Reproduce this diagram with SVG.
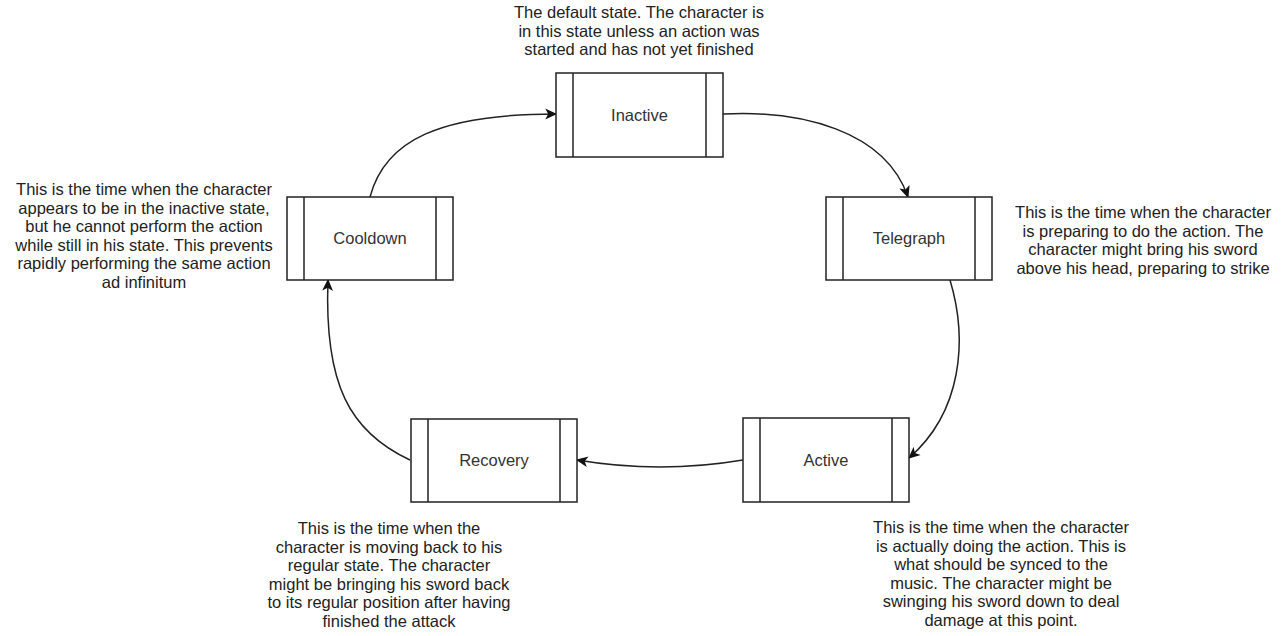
<svg xmlns="http://www.w3.org/2000/svg" width="1283" height="636" viewBox="0 0 1283 636">
<style>
.box{fill:#fff;stroke:#222;stroke-width:1.5}
.bar{stroke:#222;stroke-width:1.5}
.lbl{font-family:"Liberation Sans",Arial,sans-serif;font-size:16.5px;fill:#333;text-anchor:middle}
.desc{font-family:"Liberation Sans",Arial,sans-serif;font-size:16.5px;fill:#222;text-anchor:middle}
.edge{fill:none;stroke:#222;stroke-width:1.5;marker-end:url(#arr)}
</style>
<defs>
<marker id="arr" viewBox="0 0 10 10" refX="9" refY="5" markerWidth="12" markerHeight="12" markerUnits="userSpaceOnUse" orient="auto">
<path d="M0,0.5 L10,5 L0,9.5 L2.5,5 Z" fill="#111"/>
</marker>
</defs>
<rect width="1283" height="636" fill="#fff"/>
<g id="connectors">
<path class="edge" d="M370,197 C385,140 440,114 556,114"/>
<path class="edge" d="M723,114 C800,110 885,130 908,197"/>
<path class="edge" d="M950,280 C968,340 962,412 909,458"/>
<path class="edge" d="M743,460 Q660,474 577,460"/>
<path class="edge" d="M410,460 C350,432 324,385 328,280"/>
</g>
<g id="inactive">
<rect class="box" x="556" y="73" width="167" height="84"/>
<line class="bar" x1="573" y1="73" x2="573" y2="157"/>
<line class="bar" x1="706" y1="73" x2="706" y2="157"/>
<text class="lbl" x="639.5" y="121">Inactive</text>
</g>
<g id="telegraph">
<rect class="box" x="826" y="197" width="166" height="83"/>
<line class="bar" x1="843" y1="197" x2="843" y2="280"/>
<line class="bar" x1="975" y1="197" x2="975" y2="280"/>
<text class="lbl" x="909" y="244">Telegraph</text>
</g>
<g id="active">
<rect class="box" x="743" y="418" width="166" height="84"/>
<line class="bar" x1="760" y1="418" x2="760" y2="502"/>
<line class="bar" x1="892" y1="418" x2="892" y2="502"/>
<text class="lbl" x="826" y="466">Active</text>
</g>
<g id="recovery">
<rect class="box" x="411" y="419" width="166" height="83"/>
<line class="bar" x1="428" y1="419" x2="428" y2="502"/>
<line class="bar" x1="560" y1="419" x2="560" y2="502"/>
<text class="lbl" x="494" y="466">Recovery</text>
</g>
<g id="cooldown">
<rect class="box" x="287" y="197" width="166" height="83"/>
<line class="bar" x1="304" y1="197" x2="304" y2="280"/>
<line class="bar" x1="436" y1="197" x2="436" y2="280"/>
<text class="lbl" x="370" y="244">Cooldown</text>
</g>
<g id="note-inactive">
<text class="desc"><tspan x="639" y="18">The default state. The character is</tspan><tspan x="639" y="36.5">in this state unless an action was</tspan><tspan x="639" y="55">started and has not yet finished</tspan></text>
</g>
<g id="note-telegraph">
<text class="desc"><tspan x="1143" y="218">This is the time when the character</tspan><tspan x="1143" y="236.5">is preparing to do the action. The</tspan><tspan x="1143" y="255">character might bring his sword</tspan><tspan x="1143" y="273.5">above his head, preparing to strike</tspan></text>
</g>
<g id="note-active">
<text class="desc"><tspan x="1001" y="533">This is the time when the character</tspan><tspan x="1001" y="551.5">is actually doing the action. This is</tspan><tspan x="1001" y="570">what should be synced to the</tspan><tspan x="1001" y="588.5">music. The character might be</tspan><tspan x="1001" y="607">swinging his sword down to deal</tspan><tspan x="1001" y="625.5">damage at this point.</tspan></text>
</g>
<g id="note-recovery">
<text class="desc"><tspan x="389" y="534">This is the time when the</tspan><tspan x="389" y="552.5">character is moving back to his</tspan><tspan x="389" y="571">regular state. The character</tspan><tspan x="389" y="589.5">might be bringing his sword back</tspan><tspan x="389" y="608">to its regular position after having</tspan><tspan x="389" y="626.5">finished the attack</tspan></text>
</g>
<g id="note-cooldown">
<text class="desc"><tspan x="144" y="195">This is the time when the character</tspan><tspan x="144" y="213.5">appears to be in the inactive state,</tspan><tspan x="144" y="232">but he cannot perform the action</tspan><tspan x="144" y="250.5">while still in his state. This prevents</tspan><tspan x="144" y="269">rapidly performing the same action</tspan><tspan x="144" y="287.5">ad infinitum</tspan></text>
</g>
</svg>
